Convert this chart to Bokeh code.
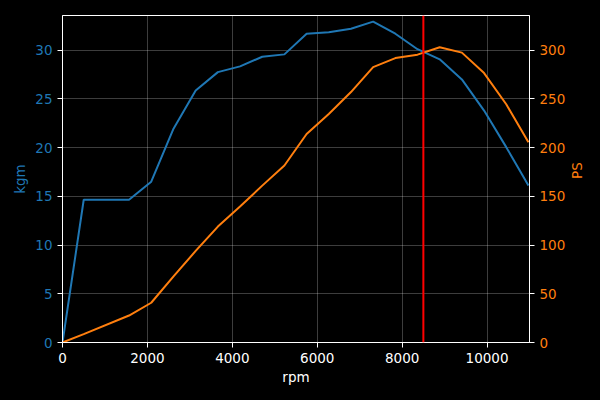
import math
from bokeh.plotting import figure
from bokeh.models import Range1d, LinearAxis, Span
from bokeh.embed import file_html
from bokeh.resources import INLINE

rpm = [0, 500, 1567, 2090, 2615, 3137, 3660, 4182, 4705, 5227, 5750, 6272,
       6795, 7317, 7840, 8362, 8885, 9407, 9930, 10452, 10975]
kgm = [0, 14.65, 14.65, 16.5, 21.94, 25.87, 27.75, 28.34, 29.33, 29.57, 31.69,
       31.83, 32.2, 32.93, 31.69, 30.1, 29.06, 27.0, 23.8, 20.05, 16.12]
ps = [0, 8.6, 27.7, 40.8, 67.8, 94.0, 119.0, 139.5, 161.0, 181.7, 214.0, 234.5,
      257.0, 282.6, 291.9, 295.4, 303.0, 297.5, 276.5, 244.5, 205.5]
redline_rpm = 8500
x_ticks = [0, 2000, 4000, 6000, 8000, 10000]
kgm_ticks = [0, 5, 10, 15, 20, 25, 30]
ps_ticks = [0, 50, 100, 150, 200, 250, 300]

BLUE = "#1f77b4"
ORANGE = "#ff7f0e"
FONT = "DejaVu Sans"
FS = "13.5px"

p = figure(width=600, height=400, output_backend="svg", toolbar_location=None,
           x_range=Range1d(0, 11000), y_range=Range1d(0, 33.56),
           min_border_left=62, min_border_right=71, min_border_top=15, min_border_bottom=58)
p.extra_y_ranges = {"ps": Range1d(0, 335.6)}

p.background_fill_color = "black"
p.border_fill_color = "black"
p.outline_line_color = "white"
p.outline_line_width = 1

for g in (p.xgrid[0], p.ygrid[0]):
    g.grid_line_color = "#ffffff"
    g.grid_line_alpha = 0.3
    g.grid_line_width = 0.8

right = LinearAxis(y_range_name="ps")
p.add_layout(right, "right")

p.xaxis.ticker = x_ticks
p.yaxis[0].ticker = kgm_ticks
right.ticker = ps_ticks

for ax in (p.xaxis[0], p.yaxis[0], right):
    ax.axis_line_color = "white"
    ax.major_tick_line_color = "white"
    ax.major_tick_out = 5
    ax.major_tick_in = 0
    ax.minor_tick_line_color = None
    ax.major_label_text_font = FONT
    ax.major_label_text_font_size = FS
    ax.axis_label_text_font = FONT
    ax.axis_label_text_font_size = FS
    ax.axis_label_text_font_style = "normal"
    ax.major_label_standoff = 5

p.xaxis.axis_label = "rpm"
p.xaxis.axis_label_text_color = "white"
p.xaxis.major_label_text_color = "white"
p.xaxis.axis_label_standoff = 3

p.yaxis[0].axis_label = "kgm"
p.yaxis[0].axis_label_text_color = BLUE
p.yaxis[0].major_label_text_color = BLUE
p.yaxis[0].axis_label_standoff = 4

right.axis_label = "PS"
right.axis_label_text_color = ORANGE
right.major_label_text_color = ORANGE
right.axis_label_standoff = 9
right.axis_label_orientation = math.pi / 2

p.line(rpm, kgm, line_color=BLUE, line_width=2)
p.line(rpm, ps, line_color=ORANGE, line_width=2, y_range_name="ps")
p.add_layout(Span(location=redline_rpm, dimension="height", line_color="red", line_width=2))

html = file_html(p, INLINE)
html = html.replace("<head>", "<head><style>html,body{background:#000;}</style>", 1)
open("out.html", "w").write(html)
